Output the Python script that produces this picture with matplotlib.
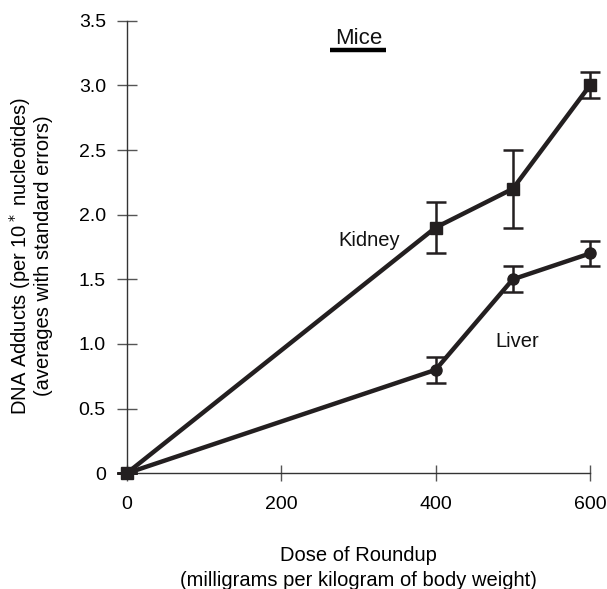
import matplotlib
matplotlib.use("Agg")
import matplotlib.pyplot as plt

plt.rcParams['font.family'] = ['Liberation Sans', 'DejaVu Sans']

dose = [0, 400, 500, 600]
kidney = [0, 1.9, 2.2, 3.0]
kidney_err = [0, 0.2, 0.3, 0.1]
liver = [0, 0.8, 1.5, 1.7]
liver_err = [0, 0.1, 0.1, 0.1]
xticks = [0, 200, 400, 600]
yticks = [0, 0.5, 1.0, 1.5, 2.0, 2.5, 3.0, 3.5]
yticklabels = ['0', '0.5', '1.0', '1.5', '2.0', '2.5', '3.0', '3.5']

col = '#231f20'
fig = plt.figure(figsize=(6.07, 5.89), dpi=100)
ax = fig.add_axes([0.2087, 0.1964, 0.7633, 0.7685])

ax.errorbar(dose, liver, yerr=liver_err, color=col, lw=3.2, marker='o', ms=8,
            elinewidth=1.8, capsize=7, capthick=1.8, clip_on=False, zorder=3)
ax.errorbar(dose, kidney, yerr=kidney_err, color=col, lw=3.2, marker='s', ms=8,
            elinewidth=1.8, capsize=7, capthick=1.8, clip_on=False, zorder=4)

ax.text(274, 1.80, 'Kidney', fontsize=14.5, ha='left', va='center', color='#111111')
ax.text(477, 1.02, 'Liver', fontsize=14.5, ha='left', va='center', color='#111111')
ax.text(300, 3.36, 'Mice', fontsize=16, ha='center', va='center', color='#111111')
ax.plot([263, 336], [3.275, 3.275], color='black', lw=3.2, solid_capstyle='butt')

ax.set_xlim(0, 600)
ax.set_ylim(0, 3.5)
ax.set_xticks(xticks)
ax.set_yticks(yticks)
ax.set_yticklabels(yticklabels)
for s in ['top', 'right']:
    ax.spines[s].set_visible(False)
for s in ['left', 'bottom']:
    ax.spines[s].set_linewidth(1.0)
    ax.spines[s].set_color('#333333')
ax.tick_params(axis='y', direction='inout', length=14, width=1.0, color='#555555', labelsize=14, pad=8)
ax.tick_params(axis='x', direction='inout', length=12, width=1.0, color='#555555', labelsize=14, pad=10)

ax.set_xlabel('Dose of Roundup\n(milligrams per kilogram of body weight)', fontsize=14.5, labelpad=24, linespacing=1.4)
ax.set_ylabel('DNA Adducts (per 10$^*$ nucleotides)\n(averages with standard errors)', fontsize=14.5, linespacing=1.1)
ax.yaxis.set_label_coords(-0.158, 0.48)

fig.savefig('out.png', dpi=100)
